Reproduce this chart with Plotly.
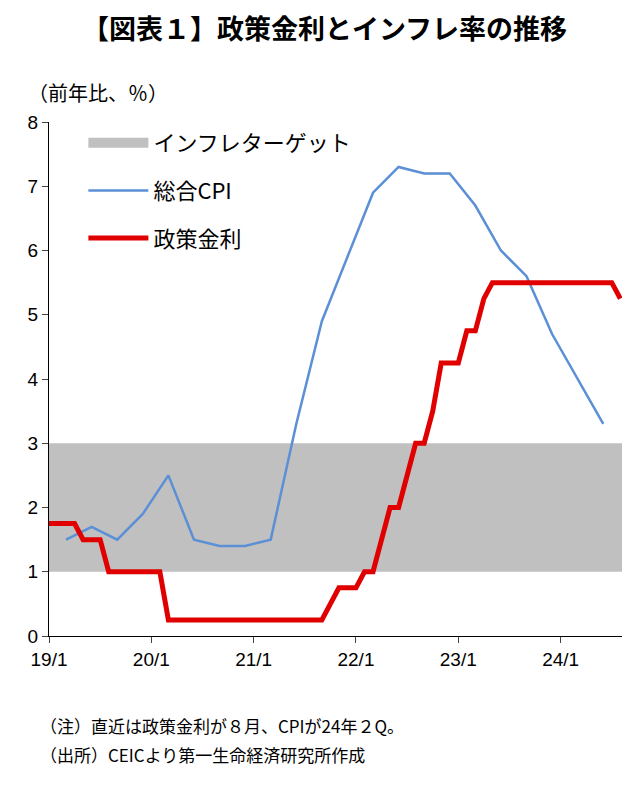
import plotly.graph_objects as go

# policy rate, monthly Jan 2019 - Aug 2024
rate_2019 = [1.75, 1.75, 1.75, 1.75, 1.5, 1.5, 1.5, 1.0, 1.0, 1.0, 1.0, 1.0]
rate_2020 = [1.0, 1.0] + [0.25] * 10
rate_2021 = [0.25] * 9 + [0.5, 0.75, 0.75]
rate_2022 = [0.75, 1.0, 1.0, 1.5, 2.0, 2.0, 2.5, 3.0, 3.0, 3.5, 4.25, 4.25]
rate_2023 = [4.25, 4.75, 4.75, 5.25] + [5.5] * 8
rate_2024 = [5.5] * 7 + [5.25]
rate = rate_2019 + rate_2020 + rate_2021 + rate_2022 + rate_2023 + rate_2024
rate_x = [2019 + i / 12 for i in range(len(rate))]

# headline CPI, quarterly 2019Q1 - 2024Q2
cpi = [1.5, 1.7, 1.5, 1.9, 2.5, 1.5, 1.4, 1.4, 1.5, 3.3, 4.9, 5.9,
       6.9, 7.3, 7.2, 7.2, 6.7, 6.0, 5.6, 4.7, 4.0, 3.3]
cpi_x = [2019 + (3 * i + 2) / 12 for i in range(len(cpi))]

target_lo, target_hi = 1, 3
tick_years = [2019, 2020, 2021, 2022, 2023, 2024]
tick_labels = ["19/1", "20/1", "21/1", "22/1", "23/1", "24/1"]

font = "Noto Sans CJK JP"
fig = go.Figure()
fig.add_shape(type="rect", xref="x", yref="y", x0=2019, x1=2024.6,
              y0=target_lo, y1=target_hi, fillcolor="#c0c0c0", line_width=0, layer="below")
fig.add_trace(go.Scatter(x=[None], y=[None], mode="lines", name="インフレターゲット",
                         legendgroup="a", line=dict(color="#c0c0c0", width=14)))
fig.add_trace(go.Scatter(x=cpi_x, y=cpi, mode="lines", name="総合CPI", legendgroup="b",
                         line=dict(color="#5b8fd6", width=2.5)))
fig.add_trace(go.Scatter(x=rate_x, y=rate, mode="lines", name="政策金利", legendgroup="c",
                         line=dict(color="#e00000", width=5)))

fig.update_layout(
    width=633, height=795, plot_bgcolor="white", paper_bgcolor="white",
    margin=dict(l=41, r=19, t=114, b=167),
    font=dict(family=font, size=19, color="black"),
    title=dict(text="<b>【図表１】政策金利とインフレ率の推移</b>", x=0.5, y=0.985,
               xanchor="center", font=dict(size=27)),
    legend=dict(x=0.06, y=1.0, bgcolor="rgba(0,0,0,0)", font=dict(size=22),
                tracegroupgap=16, itemwidth=60),
    showlegend=True,
    annotations=[
        dict(text="（前年比、％）", xref="paper", yref="paper", x=-0.04, y=1.025,
             xanchor="left", yanchor="bottom", showarrow=False, font=dict(size=20)),
        dict(text="（注）直近は政策金利が８月、CPIが24年２Q。",
             xref="paper", yref="paper", x=-0.02, y=-0.175, xanchor="left", yanchor="middle",
             showarrow=False, font=dict(size=17)),
        dict(text="（出所）CEICより第一生命経済研究所作成",
             xref="paper", yref="paper", x=-0.02, y=-0.23, xanchor="left", yanchor="middle",
             showarrow=False, font=dict(size=17)),
    ],
)
fig.update_xaxes(range=[2019, 2024.6], tickvals=tick_years, ticktext=tick_labels,
                 showgrid=False, zeroline=False, showline=True, linecolor="black",
                 ticks="outside", ticklen=6, tickfont=dict(size=19, family="Liberation Sans"))
fig.update_yaxes(range=[0, 8], dtick=1, showgrid=False, zeroline=False, showline=True,
                 linecolor="black", ticks="outside", ticklen=6,
                 tickfont=dict(size=19, family="Liberation Sans"))

fig.write_html("out.html")
